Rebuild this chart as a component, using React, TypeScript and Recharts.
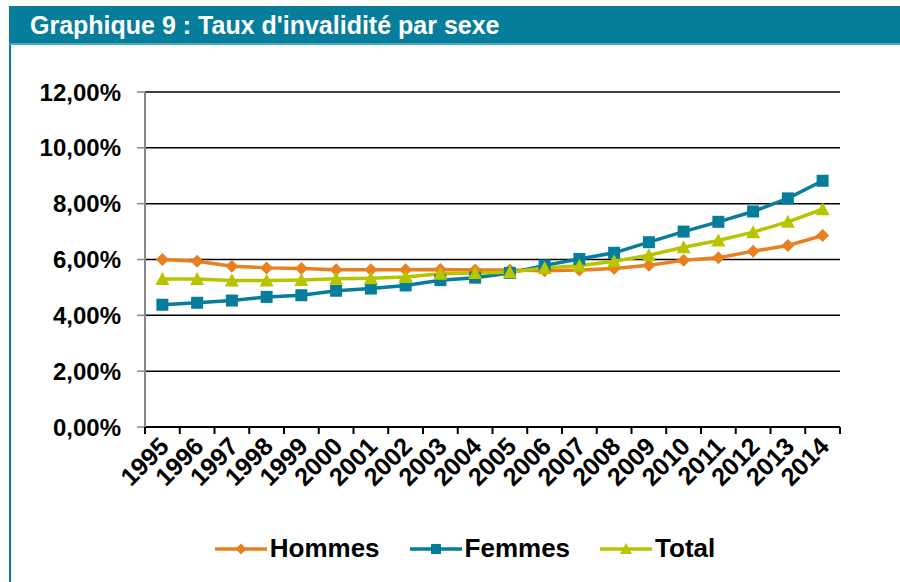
import { LineChart, Line, XAxis, YAxis, CartesianGrid } from "recharts";

const years = ["1995", "1996", "1997", "1998", "1999", "2000", "2001", "2002", "2003", "2004",
  "2005", "2006", "2007", "2008", "2009", "2010", "2011", "2012", "2013", "2014"];
const hommes = [6.0, 5.94, 5.76, 5.7, 5.68, 5.63, 5.63, 5.63, 5.64, 5.62,
  5.62, 5.6, 5.62, 5.68, 5.79, 5.97, 6.06, 6.3, 6.5, 6.86];
const femmes = [4.38, 4.45, 4.53, 4.66, 4.72, 4.88, 4.96, 5.07, 5.26, 5.35,
  5.52, 5.79, 6.02, 6.24, 6.62, 7.0, 7.35, 7.72, 8.19, 8.82];
const total = [5.3, 5.3, 5.25, 5.25, 5.27, 5.31, 5.33, 5.37, 5.49, 5.52,
  5.54, 5.7, 5.78, 5.94, 6.15, 6.44, 6.68, 6.98, 7.35, 7.8];
const yTicks = [0, 2, 4, 6, 8, 10, 12];

const title = "Graphique 9 : Taux d'invalidité par sexe";
const FONT = "'Liberation Sans', Arial, sans-serif";
const TEAL = "#077d9c";
const ORANGE = "#e8801f";
const GREEN = "#b8c400";

const data = years.map((year, i) => ({
  year,
  Hommes: hommes[i],
  Femmes: femmes[i],
  Total: total[i],
}));

type Shape = "diamond" | "square" | "triangle";

function Marker({ cx, cy, shape, color, size }: { cx: number; cy: number; shape: Shape; color: string; size: number }) {
  if (cx == null || cy == null) return null;
  const h = size / 2;
  if (shape === "diamond") {
    return <polygon points={`${cx},${cy - h} ${cx + h},${cy} ${cx},${cy + h} ${cx - h},${cy}`} fill={color} />;
  }
  if (shape === "square") {
    return <rect x={cx - h} y={cy - h} width={size} height={size} fill={color} />;
  }
  return <polygon points={`${cx},${cy - h - 1} ${cx + h + 1},${cy + h} ${cx - h - 1},${cy + h}`} fill={color} />;
}

const series: { key: string; color: string; shape: Shape; size: number }[] = [
  { key: "Hommes", color: ORANGE, shape: "diamond", size: 13 },
  { key: "Femmes", color: TEAL, shape: "square", size: 12 },
  { key: "Total", color: GREEN, shape: "triangle", size: 12 },
];

function YearTick(props: any) {
  const { x, y, payload, index } = props;
  const off = payload.offset ?? 0;
  return (
    <g>
      <line x1={x - off} y1={y} x2={x - off} y2={y + 7} stroke="#000" strokeWidth={2} />
      {index === years.length - 1 && (
        <line x1={x + off} y1={y} x2={x + off} y2={y + 7} stroke="#000" strokeWidth={2} />
      )}
      <text
        transform={`translate(${x + 8},${y + 21}) rotate(-45)`}
        textAnchor="end"
        fontFamily={FONT}
        fontWeight="bold"
        fontSize={25}
        fill="#000"
      >
        {payload.value}
      </text>
    </g>
  );
}

function LegendItem({ name, color, shape, size }: { name: string; color: string; shape: Shape; size: number }) {
  return (
    <div style={{ display: "flex", alignItems: "center", marginRight: 30 }}>
      <svg width={52} height={20} style={{ marginRight: 3 }}>
        <line x1={0} y1={10} x2={52} y2={10} stroke={color} strokeWidth={3.5} />
        <Marker cx={26} cy={10} shape={shape} color={color} size={size - 2} />
      </svg>
      <span style={{ fontFamily: FONT, fontWeight: "bold", fontSize: 26, color: "#000" }}>{name}</span>
    </div>
  );
}

export default function App() {
  return (
    <div style={{ position: "absolute", left: 0, top: 0, width: 900, height: 582, background: "#fff", overflow: "hidden" }}>
      <div
        style={{
          position: "absolute", left: 9, top: 6, width: 891, height: 37, background: TEAL,
          borderBottom: "2px solid #4fa9c2",
        }}
      >
        <span
          style={{
            position: "absolute", left: 21, top: 5, color: "#fff", fontFamily: FONT,
            fontWeight: "bold", fontSize: 25,
          }}
        >
          {title}
        </span>
      </div>
      <div style={{ position: "absolute", left: 9, top: 45, width: 2, height: 537, background: TEAL }} />
      <div style={{ position: "absolute", left: 0, top: 0 }}>
        <LineChart width={900} height={582} data={data} margin={{ top: 92, right: 60, left: 0, bottom: 75 }}>
          <CartesianGrid vertical={false} stroke="#000" strokeWidth={1.5} />
          <XAxis
            dataKey="year"
            scale="band"
            interval={0}
            height={80}
            tickSize={0}
            tickMargin={0}
            tickLine={false}
            axisLine={{ stroke: "#000", strokeWidth: 2 }}
            tick={<YearTick />}
          />
          <YAxis
            width={145}
            domain={[0, 12]}
            ticks={yTicks}
            interval={0}
            tickSize={8}
            tickMargin={16}
            axisLine={{ stroke: "#888", strokeWidth: 2 }}
            tickLine={{ stroke: "#888", strokeWidth: 1.5 }}
            tick={{ fill: "#000", fontSize: 24, fontWeight: "bold", fontFamily: FONT }}
            tickFormatter={(v: number) => `${v.toFixed(2).replace(".", ",")}%`}
          />
          {series.map((s) => (
            <Line
              key={s.key}
              dataKey={s.key}
              stroke={s.color}
              strokeWidth={3.5}
              isAnimationActive={false}
              dot={(p: any) => <Marker key={`${s.key}-${p.index}`} cx={p.cx} cy={p.cy} shape={s.shape} color={s.color} size={s.size} />}
              activeDot={false}
            />
          ))}
        </LineChart>
      </div>
      <div
        style={{
          position: "absolute", left: 0, top: 533, width: 900, display: "flex",
          justifyContent: "center", paddingLeft: 60, boxSizing: "border-box",
        }}
      >
        {series.map((s) => (
          <LegendItem key={s.key} name={s.key} color={s.color} shape={s.shape} size={s.size} />
        ))}
      </div>
    </div>
  );
}
